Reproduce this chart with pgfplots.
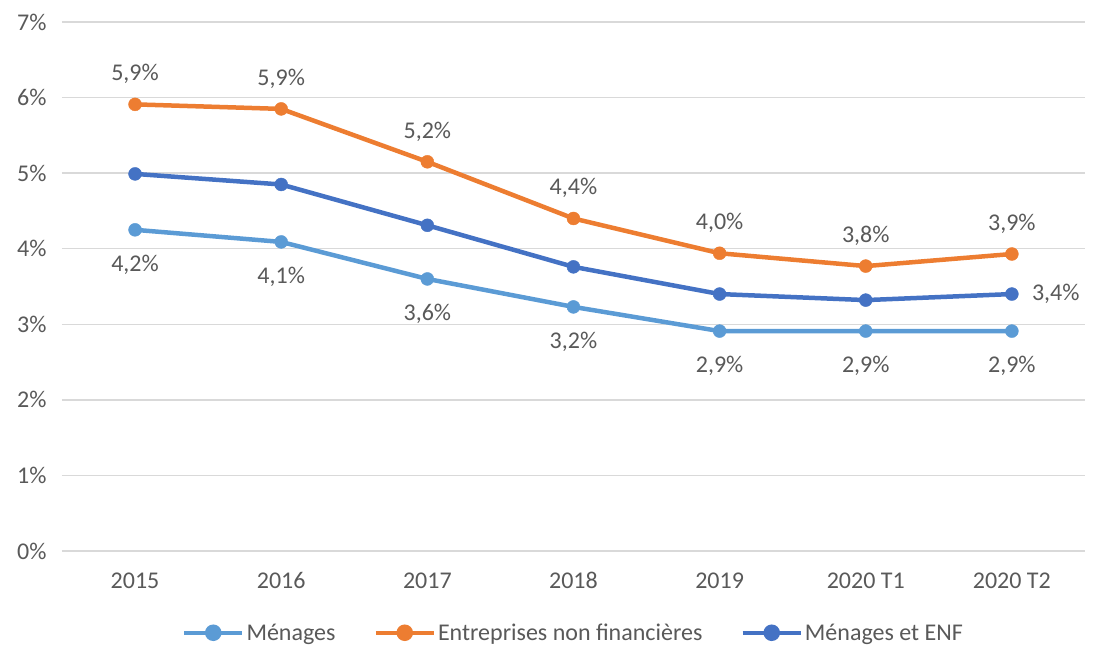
\documentclass[border=0pt]{standalone}
\usepackage{pgfplots}
\pgfplotsset{compat=1.18}
\usepackage{fontspec}
\setmainfont{Carlito}
\definecolor{lb}{HTML}{5B9BD5}
\definecolor{or}{HTML}{ED7D31}
\definecolor{db}{HTML}{4472C4}
\definecolor{tx}{HTML}{595959}
\definecolor{gr}{HTML}{D9D9D9}
\begin{document}
\begin{tikzpicture}[font=\fontsize{24}{28}\selectfont, text=tx]
\useasboundingbox (-62pt,-97pt) rectangle (1034pt,551pt);
\begin{axis}[
  scale only axis, width=1023pt, height=529pt,
  xmin=-0.5, xmax=6.5, ymin=0, ymax=7,
  xtick={0,...,6},
  xticklabels={2015,2016,2017,2018,2019,2020 T1,2020 T2},
  ytick={0,...,7},
  yticklabel={\pgfmathprintnumber{\tick}\%},
  /pgf/number format/assume math mode=true,
  ymajorgrids, grid style={gr, line width=1.5pt},
  axis line style={draw=none},
  major tick length=0pt,
  xticklabel style={yshift=-18pt},
  yticklabel style={xshift=-12pt},
  tick label style={font=\fontsize{24}{28}\selectfont, text=tx},
  legend style={at={(0.5,-97pt)}, anchor=south, yshift=2pt, draw=none, legend columns=3, font=\fontsize{24}{28}\selectfont, text=tx, /tikz/every even column/.append style={column sep=36pt}},
  legend image code/.code={\draw[#1, mark=none, line width=4.5pt] (0pt,0pt) -- (58pt,0pt); \fill[#1] (29pt,0pt) circle (6pt);},
  point meta=explicit symbolic,
  every node near coord/.append style={font=\fontsize{24}{28}\selectfont, text=tx},
]
\addplot[lb, line width=4.5pt, mark=*, mark size=6.5pt, mark options={line width=0.4pt}, nodes near coords, every node near coord/.append style={anchor=north, yshift=-22pt}] coordinates {
 (0,4.25) [4,2\%] (1,4.09) [4,1\%] (2,3.60) [3,6\%] (3,3.23) [3,2\%] (4,2.91) [2,9\%] (5,2.91) [2,9\%] (6,2.91) [2,9\%]};
\addlegendentry{Ménages}
\addplot[or, line width=4.5pt, mark=*, mark size=6.5pt, mark options={line width=0.4pt}, nodes near coords, every node near coord/.append style={anchor=south, yshift=17pt}] coordinates {
 (0,5.91) [5,9\%] (1,5.85) [5,9\%] (2,5.15) [5,2\%] (3,4.40) [4,4\%] (4,3.94) [4,0\%] (5,3.77) [3,8\%] (6,3.93) [3,9\%]};
\addlegendentry{Entreprises non financières}
\addplot[db, line width=4.5pt, mark=*, mark size=6.5pt, mark options={line width=0.4pt}] coordinates {
 (0,4.99) (1,4.85) (2,4.31) (3,3.76) (4,3.40) (5,3.32) (6,3.40)};
\addlegendentry{Ménages et ENF}
\node[anchor=west, text=tx, xshift=20pt, inner sep=0pt] at (axis cs:6,3.40) {3,4\%};
\end{axis}
\end{tikzpicture}
\end{document}
